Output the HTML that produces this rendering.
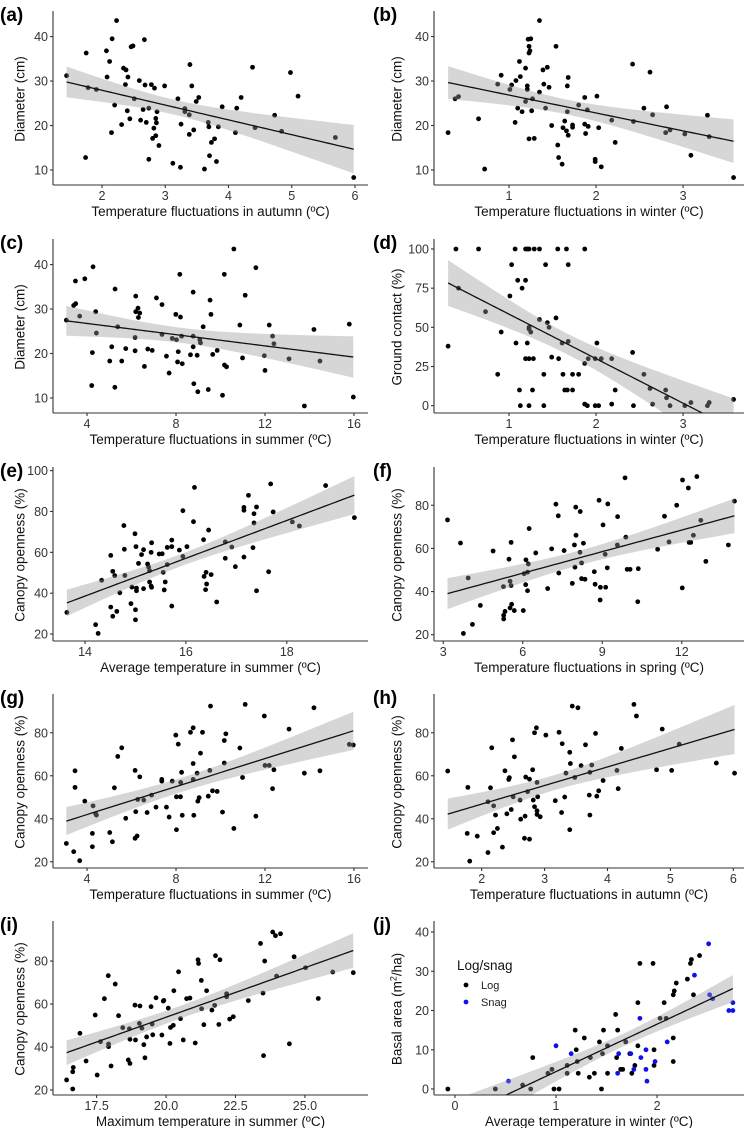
<!DOCTYPE html>
<html><head><meta charset="utf-8">
<style>
html,body{margin:0;padding:0;background:#fff;}
svg{display:block;font-family:"Liberation Sans",Arial,sans-serif;}
</style></head>
<body>
<svg id="fig" width="749" height="1128" viewBox="0 0 749 1128" xmlns="http://www.w3.org/2000/svg"></svg>
<script>
// ---- data ----
const aX=[1.44,1.75,1.78,1.91,1.74,2.07,2.12,2.08,2.16,2.23,2.20,2.15,2.31,2.34,2.38,2.41,2.37,2.40,2.44,2.46,2.49,2.51,2.59,2.61,2.65,2.68,2.67,2.70,2.74,2.74,2.78,2.80,2.82,2.83,2.85,2.86,2.85,2.87,2.90,2.99,3.12,3.20,3.24,3.25,3.31,3.31,3.38,3.39,3.38,3.42,3.45,3.49,3.53,3.62,3.68,3.69,3.70,3.73,3.78,3.81,3.84,3.90,4.11,4.13,4.20,4.38,4.42,4.73,4.84,4.98,5.10,5.69,5.98];
const aY=[31.2,36.3,28.5,28.1,12.8,36.8,34.4,30.9,39.5,43.6,24.6,18.4,20.2,32.9,32.5,30.9,29.2,23.3,21.5,37.7,37.9,26.0,30.1,21.2,23.6,29.1,39.3,20.7,12.4,23.9,29.2,17.1,19.4,28.4,21.6,20.6,17.7,23.1,15.5,28.9,11.5,26.0,10.6,20.3,23.8,23.1,22.4,33.7,18.0,28.9,19.0,25.4,26.3,10.2,20.7,19.7,13.2,16.2,17.0,11.9,19.7,24.2,18.4,23.9,26.3,33.1,19.5,22.3,18.7,31.9,26.6,17.3,8.3];
const bX=[0.30,0.38,0.42,0.65,0.72,0.87,0.91,1.01,1.03,1.08,1.07,1.10,1.12,1.13,1.15,1.19,1.19,1.21,1.21,1.22,1.23,1.23,1.24,1.25,1.23,1.27,1.26,1.29,1.35,1.35,1.39,1.40,1.42,1.44,1.46,1.49,1.54,1.56,1.57,1.61,1.62,1.64,1.66,1.67,1.67,1.68,1.68,1.73,1.73,1.80,1.87,1.87,1.88,1.90,1.91,1.99,1.99,2.01,2.03,2.06,2.18,2.22,2.43,2.42,2.55,2.62,2.65,2.81,2.80,2.85,3.02,3.09,3.28,3.30,3.58];
const bY=[18.4,26.0,26.5,21.5,10.2,29.3,31.3,28.1,29.1,30.1,20.7,23.9,34.4,31.0,23.1,25.4,32.9,28.9,28.1,39.4,36.3,37.8,36.8,39.5,17.0,26.0,23.3,17.1,27.5,43.6,32.5,29.3,23.9,33.1,28.6,20.0,37.8,15.6,12.8,11.3,19.5,21.0,18.8,28.9,23.1,30.8,17.8,20.1,19.6,24.6,26.3,20.3,18.2,23.5,19.8,12.4,11.9,26.6,19.5,10.7,21.2,16.2,20.9,33.8,23.9,32.0,22.4,24.2,18.4,19.0,18.1,13.3,22.3,17.5,8.3];
const cX=[3.07,3.40,3.49,3.48,3.67,3.90,4.27,4.39,4.42,4.24,4.21,5.11,5.02,5.26,5.38,5.25,5.56,5.74,6.19,6.19,6.16,6.16,6.29,6.31,6.37,6.58,6.73,6.93,7.12,7.37,7.37,7.57,7.69,7.83,7.99,8.02,8.07,8.10,8.17,8.20,8.25,8.28,8.65,8.77,8.77,8.77,8.80,8.95,8.98,9.07,9.10,9.22,9.45,9.53,9.57,9.65,9.85,10.09,10.17,10.18,10.27,10.60,10.87,10.99,11.11,11.59,11.97,12.0,12.19,12.34,12.40,13.08,13.77,14.2,14.47,15.79,15.97];
const cY=[27.5,30.8,31.2,36.3,28.4,36.8,39.5,29.4,24.6,20.2,12.8,21.5,18.3,34.5,26.0,12.4,18.3,21.1,32.9,29.4,23.6,20.6,30.2,28.1,29.1,17.1,21.0,20.7,32.5,31.0,24.3,19.4,15.6,23.4,28.8,23.1,18.1,20.4,37.8,28.2,23.9,17.7,19.7,33.8,23.9,21.5,13.2,19.6,11.4,23.1,22.4,26.0,11.9,32.0,28.8,19.8,20.7,10.6,37.8,17.4,17.0,43.5,26.4,19.0,33.1,39.3,19.5,16.2,26.4,23.9,22.2,18.8,8.2,25.4,18.3,26.6,10.2];
const dX=[0.30,0.39,0.42,0.65,0.73,0.87,0.91,1.01,1.03,1.07,1.08,1.10,1.12,1.13,1.15,1.19,1.19,1.21,1.23,1.21,1.19,1.23,1.23,1.23,1.23,1.25,1.27,1.28,1.29,1.35,1.35,1.40,1.40,1.42,1.44,1.46,1.49,1.54,1.56,1.57,1.61,1.62,1.64,1.66,1.67,1.68,1.68,1.73,1.73,1.80,1.87,1.87,1.87,1.90,1.91,1.99,1.99,2.01,2.03,2.06,2.18,2.18,2.22,2.42,2.43,2.55,2.62,2.65,2.80,2.81,2.85,3.02,3.09,3.28,3.30,3.58];
const dY=[38,100,75,100,60,20,47,70,90,100,40,80,10,0,75,80,100,100,100,40,30,30,50,0,49,47,10,30,100,100,55,20,0,90,53,50,31,56,100,30,40,20,10,100,10,90,41,20,10,20,100,1,27,0,30,0,30,40,0,30,30,1,10,34,0,20,11,1,10,5,0,0,2,0,2,4];
const eX=[13.64,14.21,14.26,14.33,14.51,14.51,14.55,14.55,14.59,14.63,14.69,14.77,14.78,14.79,14.91,14.93,14.99,15.01,15.0,15.0,15.02,15.02,15.06,15.12,15.16,15.16,15.24,15.26,15.28,15.28,15.31,15.31,15.32,15.32,15.47,15.53,15.55,15.59,15.57,15.63,15.63,15.72,15.72,15.72,15.87,15.94,15.94,16.02,16.15,16.17,16.35,16.36,16.40,16.41,16.39,16.45,16.50,16.61,16.78,16.78,16.91,16.98,17.15,17.15,17.15,17.24,17.33,17.35,17.35,17.40,17.40,17.64,17.68,17.73,18.11,18.25,18.77,19.34];
const eY=[30.6,24.6,20.3,46.3,58.5,33.2,50.7,28.7,48.6,31.1,40.2,73.1,61.5,48.7,34.9,43.0,69.1,62.8,31.9,27.0,42.5,41.2,54.6,58.9,61.3,42.2,54.3,52.8,51.0,45.5,60.0,43.5,42.9,64.7,59.2,59.3,50.2,45.5,41.6,62.4,54.0,66.0,62.8,33.7,61.1,58.0,80.4,62.8,75.0,91.8,66.2,48.2,50.2,44.5,41.7,70.9,49.1,35.7,65.1,57.1,62.6,53.0,82.0,80.6,57.7,87.9,62.3,78.9,74.4,82.2,41.2,50.5,93.5,79.8,74.9,72.9,92.7,77.0];
const fX=[3.16,3.65,3.76,3.94,4.10,4.40,4.88,5.27,5.28,5.28,5.33,5.48,5.52,5.52,5.56,5.56,5.58,5.68,6.02,6.05,6.11,6.12,6.18,6.21,6.18,6.24,6.49,6.94,7.09,7.25,7.34,7.36,7.56,7.87,7.95,7.97,8.00,8.01,8.16,8.17,8.22,8.22,8.29,8.35,8.70,8.73,8.88,8.92,8.93,9.03,9.11,9.13,9.19,9.21,9.58,9.57,9.86,9.89,9.94,10.05,10.34,10.36,11.09,11.35,11.52,11.81,12.02,12.03,12.25,12.28,12.34,12.57,12.44,12.72,12.91,13.76,13.99];
const fY=[73.2,62.5,20.6,46.3,24.8,33.6,58.8,42.3,29.0,27.3,30.8,55.0,32.4,44.8,42.8,62.8,34.1,31.2,31.2,48.3,43.2,54.7,49.0,52.8,40.4,69.2,57.9,41.4,59.8,80.5,75.1,48.6,59.0,43.8,61.6,51.3,79.1,66.1,58.2,77.1,53.3,46.0,62.4,45.7,49.2,43.4,82.3,36.1,42.0,70.9,57.3,42.0,51.0,80.6,74.7,61.6,92.7,65.2,50.3,50.3,35.3,50.6,59.6,74.9,63.0,80.0,41.7,91.7,88.0,62.8,62.8,93.3,66.1,73.0,54.0,61.6,81.9];
const gX=[3.07,3.40,3.46,3.46,3.67,3.90,4.24,4.24,4.27,4.39,4.42,5.23,5.02,5.14,5.38,5.56,5.74,6.16,6.19,6.16,6.25,6.28,6.37,6.55,6.70,6.90,7.10,7.36,7.36,7.57,7.69,7.83,7.99,8.02,8.02,8.10,8.20,8.21,8.25,8.28,8.65,8.77,8.77,8.77,8.80,8.95,8.98,9.04,9.10,9.19,9.45,9.52,9.55,9.64,9.85,10.09,10.17,10.17,10.24,10.60,10.87,10.99,11.11,11.59,11.97,12.0,12.19,12.34,12.40,13.08,13.77,14.2,14.47,15.79,15.97];
const gY=[28.5,24.7,62.3,54.6,20.5,48.2,33.2,27.0,46.0,42.3,41.7,54.4,33.6,29.3,69.0,73.0,40.2,62.5,43.3,30.9,32.0,49.0,59.5,48.7,42.9,51.0,45.4,58.3,57.5,45.4,40.8,57.5,78.9,50.2,34.9,74.7,50.2,56.9,61.6,41.6,80.2,82.3,65.7,58.3,41.6,61.2,48.2,49.8,70.5,80.2,50.5,62.5,92.4,53.0,52.7,43.1,76.4,65.9,79.5,35.5,72.9,59.2,93.2,41.2,87.8,64.8,64.8,54.0,62.8,81.7,61.2,91.6,62.3,74.6,74.3];
const hX=[1.46,1.77,1.78,1.81,1.93,2.10,2.10,2.14,2.16,2.19,2.19,2.22,2.25,2.33,2.37,2.40,2.43,2.44,2.47,2.49,2.52,2.50,2.61,2.62,2.68,2.69,2.70,2.73,2.76,2.76,2.81,2.82,2.84,2.84,2.87,2.88,2.88,2.89,2.88,2.93,3.02,3.17,3.23,3.27,3.28,3.32,3.34,3.40,3.41,3.40,3.44,3.48,3.53,3.58,3.65,3.72,3.72,3.75,3.71,3.81,3.83,3.86,3.93,4.15,4.17,4.22,4.42,4.46,4.78,4.87,5.02,5.14,5.73,6.02];
const hY=[62.2,33.2,54.6,20.3,31.9,24.3,47.9,54.4,73.0,33.5,46.0,41.7,35.5,26.8,62.3,42.3,58.3,59.1,44.3,76.7,68.8,50.2,48.7,39.8,30.9,41.2,59.4,52.6,30.5,58.4,62.8,48.7,45.6,80.0,82.3,56.9,43.7,50.2,42.0,40.9,78.9,48.4,80.2,42.9,74.9,50.1,61.2,70.9,65.7,34.9,92.4,59.2,91.6,64.7,74.4,61.6,41.7,65.0,51.0,79.7,50.5,53.0,57.8,62.5,54.0,72.7,93.2,87.8,62.8,81.7,62.5,74.7,65.9,61.2];
const iX=[16.42,16.64,16.66,16.64,16.90,17.12,17.45,17.52,17.64,17.78,17.92,17.93,17.93,18.02,18.17,18.29,18.44,18.64,18.68,18.70,18.70,18.88,18.90,19.04,19.06,19.13,19.20,19.24,19.30,19.46,19.50,19.52,19.64,19.85,19.90,19.92,20.08,20.14,20.16,20.26,20.28,20.45,20.52,20.62,20.74,20.86,21.05,21.15,21.17,21.27,21.28,21.36,21.46,21.65,21.75,21.78,21.90,21.94,22.18,22.18,22.29,22.42,22.96,23.40,23.49,23.51,23.55,23.84,23.94,23.98,24.12,24.44,24.61,25.02,25.48,26.0,26.74];
const iY=[24.7,28.5,30.5,20.5,46.4,33.5,54.9,27.0,42.5,62.5,73.2,41.4,40.2,31.2,69.3,54.6,49.0,34.0,48.5,32.4,43.6,59.5,43.3,51.0,59.1,48.8,41.1,35.0,44.7,58.8,50.7,45.7,62.9,45.6,61.4,61.7,58.1,41.7,49.1,50.1,66.2,75.0,53.2,43.3,62.5,62.8,41.9,80.6,78.9,71.0,57.8,50.4,66.2,57.2,59.4,82.5,50.5,80.6,63.4,64.8,53.0,54.1,61.6,88.2,65.1,36.0,80.0,93.5,91.8,73.0,92.7,41.5,82.0,76.9,62.6,74.9,74.6];
const jLogX=[-0.07,0.40,0.67,0.75,0.77,0.92,0.96,0.98,1.03,1.11,1.11,1.19,1.20,1.21,1.22,1.28,1.33,1.34,1.38,1.43,1.45,1.46,1.47,1.51,1.51,1.59,1.60,1.61,1.64,1.66,1.69,1.73,1.75,1.78,1.81,1.81,1.83,1.96,1.97,1.97,2.03,2.07,2.09,2.16,2.16,2.16,2.17,2.19,2.30,2.33,2.34,2.36,2.42];
const jLogY=[0,0,1,0,8,4,5,0,0,4,6,15,10,7,4,13,3,8,4,12,0,9,15,11,4,19,8,15,5,5,12,9,4,6,22,11,32,32,10,6,18,22,18,13,7,24,25,27,28,32,33,24,34];
const jSnagX=[0.53,1.0,1.15,1.61,1.62,1.74,1.77,1.83,1.84,1.89,1.89,1.90,1.98,2.10,2.37,2.51,2.52,2.55,2.71,2.75,2.75];
const jSnagY=[2,11,9,4,9,9,5,18,8,10,5,2,7,12,29,37,24,23,20,22,20];
// tick values
const aXTicks=[2,3,4,5,6], diamYTicks=[10,20,30,40];
const bXTicks=[1,2,3], cXTicks=[4,8,12,16];
const dYTicks=[0,25,50,75,100];
const eXTicks=[14,16,18], eYTicks=[20,40,60,80,100];
const fXTicks=[3,6,9,12], canYTicks=[20,40,60,80];
const hXTicks=[2,3,4,5,6];
const iXTicks=[17.5,20.0,22.5,25.0], iXLabels=["17.5","20.0","22.5","25.0"];
const jXTicks=[0,1,2], jYTicks=[0,10,20,30,40];

const NS="http://www.w3.org/2000/svg";
const svg=document.getElementById('fig');
function mk(tag,attrs,parent){const e=document.createElementNS(NS,tag);for(const k in attrs)e.setAttribute(k,attrs[k]);(parent||svg).appendChild(e);return e;}

function ols(xs,ys){const n=xs.length;let mx=0,my=0;for(let i=0;i<n;i++){mx+=xs[i];my+=ys[i];}mx/=n;my/=n;
 let sxx=0,sxy=0;for(let i=0;i<n;i++){sxx+=(xs[i]-mx)**2;sxy+=(xs[i]-mx)*(ys[i]-my);}
 const b=sxy/sxx,a=my-b*mx;let sse=0;for(let i=0;i<n;i++){sse+=(ys[i]-a-b*xs[i])**2;}
 const s=Math.sqrt(sse/(n-2));return {a,b,mx,sxx,s,n};}

const rows=[0,228,456,683,910];
function panel(p){
 const oy=rows[p.row];
 const L=p.col===0?53:434, R=p.col===0?368:744, T=oy+13, B=oy+185;
 const g=mk('g',{});
 
 
 const sx=v=>L+(v-p.dom[0])/(p.dom[1]-p.dom[0])*(R-L);
 const sy=v=>B-(v-p.dom[2])/(p.dom[3]-p.dom[2])*(B-T);
 const cid='clip-'+p.id;
 const cp=mk('clipPath',{id:cid},g);mk('rect',{x:L,y:T,width:R-L,height:B-T},cp);
 // points
 const pg=mk('g',{},g);
 
 
 p.series.forEach(s=>{for(let i=0;i<s.x.length;i++){const c=mk('circle',{cx:sx(s.x[i]),cy:sy(s.y[i]),r:2.4,fill:s.color},pg);
   
   }});
 // regression with 95% CI
 let ax=[],ay=[];p.series.forEach(s=>{ax=ax.concat(s.x);ay=ay.concat(s.y);});
 const f=ols(ax,ay);const x0=Math.min(...ax),x1=Math.max(...ax);const t=1.99;
 const up=[],lo=[],ln=[];
 for(let k=0;k<=80;k++){const x=x0+(x1-x0)*k/80;const yh=f.a+f.b*x;const se=f.s*Math.sqrt(1/f.n+(x-f.mx)**2/f.sxx);
  up.push(sx(x)+','+sy(yh+t*se));lo.unshift(sx(x)+','+sy(yh-t*se));ln.push(sx(x)+','+sy(yh));}
 const cg=mk('g',{'clip-path':'url(#'+cid+')'},g);
 const band=mk('polygon',{points:up.concat(lo).join(' '),fill:'#999',opacity:0.4},cg);
 
 
 const line=mk('polyline',{points:ln.join(' '),fill:'none',stroke:'#111','stroke-width':1.3},cg);
 
 
 // axes
 const axg=mk('g',{stroke:'#333','stroke-width':1.1},g);
 
 
 mk('line',{x1:L,y1:T-2,x2:L,y2:B},axg);mk('line',{x1:L,y1:B,x2:R,y2:B},axg);
 p.xt.forEach((v,i)=>{const x=sx(v);mk('line',{x1:x,y1:B,x2:x,y2:B+3},axg);
  const tx=mk('text',{x:x,y:B+15,'text-anchor':'middle','font-size':12.5,fill:'#333'},g);tx.textContent=p.xl?p.xl[i]:String(v);
  
  });
 p.yt.forEach(v=>{const y=sy(v);mk('line',{x1:L-3,y1:y,x2:L,y2:y},axg);
  const tx=mk('text',{x:L-5,y:y+4.5,'text-anchor':'end','font-size':12.5,fill:'#333'},g);tx.textContent=String(v);
  
  });
 const xt=mk('text',{x:(L+R)/2,y:B+31,'text-anchor':'middle','font-size':13.5,fill:'#111'},g);xt.textContent=p.xtitle;
 
 
 const ycx=p.col===0?20:397, ycy=(T+B)/2;
 const yt=mk('text',{x:ycx,y:ycy,'text-anchor':'middle','font-size':13.5,fill:'#111',transform:'rotate(-90 '+ycx+' '+ycy+')',dy:'0.35em'},g);
 if(p.ysup){yt.textContent=p.ytitle[0];const ts=mk('tspan',{'baseline-shift':'super','font-size':9},yt);ts.textContent='2';const t2=mk('tspan',{},yt);t2.textContent=p.ytitle[1];}
 else yt.textContent=p.ytitle;
 
 
 const lb=mk('text',{x:p.col===0?0:373,y:oy+21,'font-size':19,'font-weight':'bold',fill:'#000'},g);lb.textContent='('+p.id+')';
 
 
 return {sx,sy};
}
const K='#000';
panel({id:'a',row:0,col:0,dom:[1.225,6.206,6.62,45.3],xt:aXTicks,yt:diamYTicks,series:[{x:aX,y:aY,color:K}],xtitle:'Temperature fluctuations in autumn (ºC)',ytitle:'Diameter (cm)'});
panel({id:'b',row:0,col:1,dom:[0.138,3.70,6.62,45.3],xt:bXTicks,yt:diamYTicks,series:[{x:bX,y:bY,color:K}],xtitle:'Temperature fluctuations in winter (ºC)',ytitle:'Diameter (cm)'});
panel({id:'c',row:1,col:0,dom:[2.47,16.63,6.62,45.3],xt:cXTicks,yt:diamYTicks,series:[{x:cX,y:cY,color:K}],xtitle:'Temperature fluctuations in summer (ºC)',ytitle:'Diameter (cm)'});
panel({id:'d',row:1,col:1,dom:[0.138,3.70,-4.66,105.1],xt:bXTicks,yt:dYTicks,series:[{x:dX,y:dY,color:K}],xtitle:'Temperature fluctuations in winter (ºC)',ytitle:'Ground contact (%)'});
panel({id:'e',row:2,col:0,dom:[13.365,19.61,16.6,100.8],xt:eXTicks,yt:eYTicks,series:[{x:eX,y:eY,color:K}],xtitle:'Average temperature in summer (ºC)',ytitle:'Canopy openness (%)'});
panel({id:'f',row:2,col:1,dom:[2.65,14.35,17.1,96.8],xt:fXTicks,yt:canYTicks,series:[{x:fX,y:fY,color:K}],xtitle:'Temperature fluctuations in spring (ºC)',ytitle:'Canopy openness (%)'});
panel({id:'g',row:3,col:0,dom:[2.47,16.63,17.1,97.1],xt:cXTicks,yt:canYTicks,series:[{x:gX,y:gY,color:K}],xtitle:'Temperature fluctuations in summer (ºC)',ytitle:'Canopy openness (%)'});
panel({id:'h',row:3,col:1,dom:[1.242,6.17,17.1,97.1],xt:hXTicks,yt:canYTicks,series:[{x:hX,y:hY,color:K}],xtitle:'Temperature fluctuations in autumn (ºC)',ytitle:'Canopy openness (%)'});
panel({id:'i',row:4,col:0,dom:[15.93,27.27,17.7,97.7],xt:iXTicks,xl:iXLabels,yt:canYTicks,series:[{x:iX,y:iY,color:K}],xtitle:'Maximum temperature in summer (ºC)',ytitle:'Canopy openness (%)'});
panel({id:'j',row:4,col:1,dom:[-0.207,2.86,-1.53,42.3],xt:jXTicks,yt:jYTicks,series:[{x:jLogX,y:jLogY,color:K},{x:jSnagX,y:jSnagY,color:'#1010ee'}],xtitle:'Average temperature in winter (ºC)',ytitle:['Basal area (m','/ha)'],ysup:true});
// legend in (j)
const lg=mk('g',{});


const lt=mk('text',{x:457,y:970,'font-size':13.5,fill:'#111'},lg);lt.textContent='Log/snag';
const l1=mk('circle',{cx:466,cy:985,r:2.4,fill:'#000'},lg);


const l1t=mk('text',{x:481,y:989,'font-size':11,fill:'#222'},lg);l1t.textContent='Log';
const l2=mk('circle',{cx:466,cy:1002,r:2.4,fill:'#1010ee'},lg);


const l2t=mk('text',{x:481,y:1006,'font-size':11,fill:'#222'},lg);l2t.textContent='Snag';
</script>
</body></html>
